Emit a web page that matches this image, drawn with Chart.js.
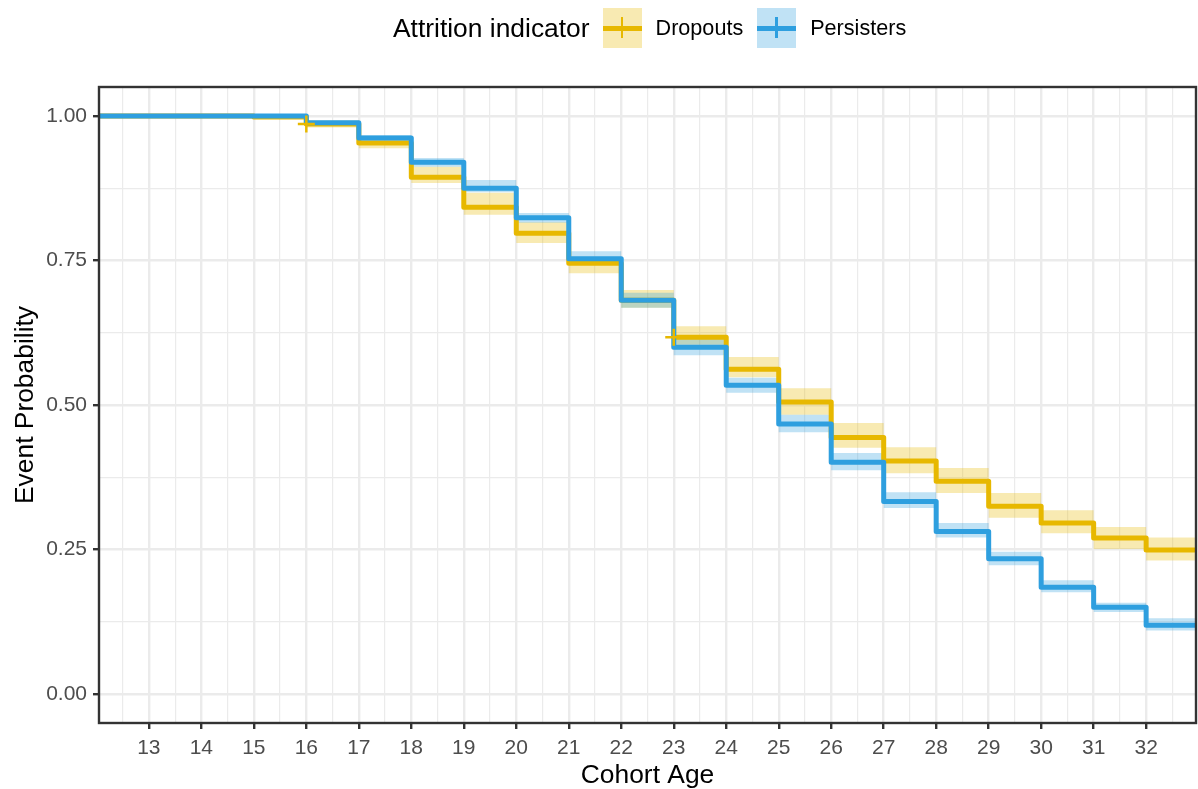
<!DOCTYPE html>
<html>
<head>
<meta charset="utf-8">
<script src="https://cdn.jsdelivr.net/npm/chart.js@4.4.0/dist/chart.umd.min.js"></script>
<style>
html,body{margin:0;padding:0;background:#fff;}
#wrap{position:relative;width:1198px;height:789px;font-family:"Liberation Sans",Arial,sans-serif;overflow:hidden;}
#chart{position:absolute;left:0;top:0;}
#legend{position:absolute;left:393px;top:8px;height:40px;display:flex;align-items:center;white-space:nowrap;}
.ltitle{font-size:26.4px;color:#000;margin-right:13px;}
.key{position:relative;width:39px;height:40px;margin-right:14px;}
.key .h{position:absolute;left:0;right:0;top:18px;height:4.5px;}
.key .v{position:absolute;left:18px;width:2.5px;top:9px;height:21px;}
.lab{font-size:21.6px;color:#000;}
</style>
</head>
<body>
<div id="wrap">
  <canvas id="chart" width="1198" height="789"></canvas>
  <div id="legend"></div>
</div>
<script>
// ---------- data ----------
const ages = [12,13,14,15,16,17,18,19,20,21,22,23,24,25,26,27,28,29,30,31,32];
const endAge = 33;

const dropouts      = [1,1,1,0.998,0.986,0.953,0.894,0.842,0.797,0.745,0.681,0.617,0.562,0.505,0.444,0.403,0.368,0.325,0.296,0.270,0.249];
const dropoutsUpper = [1,1,1,1.000,0.992,0.958,0.912,0.867,0.816,0.756,0.699,0.636,0.583,0.529,0.469,0.427,0.391,0.348,0.318,0.289,0.271];
const dropoutsLower = [1,1,1,0.996,0.980,0.944,0.884,0.829,0.780,0.728,0.668,0.604,0.548,0.483,0.426,0.382,0.348,0.305,0.278,0.251,0.231];

const persisters      = [1,1,1,1,0.988,0.962,0.920,0.875,0.824,0.753,0.681,0.600,0.534,0.467,0.401,0.333,0.281,0.234,0.185,0.150,0.119];
const persistersUpper = [1,1,1,1,0.991,0.967,0.927,0.889,0.832,0.766,0.694,0.616,0.547,0.483,0.417,0.349,0.296,0.246,0.197,0.158,0.131];
const persistersLower = [1,1,1,1,0.985,0.957,0.912,0.868,0.815,0.743,0.668,0.586,0.521,0.453,0.387,0.322,0.271,0.223,0.176,0.142,0.110];

const dropoutCensorAges   = [16, 23];
const dropoutCensorValues = [0.986, 0.617];

const xTicks = [13,14,15,16,17,18,19,20,21,22,23,24,25,26,27,28,29,30,31,32];
const yTicks = [0, 0.25, 0.5, 0.75, 1];
const yTickLabels = ['0.00','0.25','0.50','0.75','1.00'];

const seriesNames = ['Dropouts','Persisters'];
const legendTitle = 'Attrition indicator';
const xTitle = 'Cohort Age';
const yTitle = 'Event Probability';

// ---------- styling ----------
const YEL = '#E7B800', BLU = '#2E9FDF';
const YEL_F = 'rgba(231,184,0,0.3)', BLU_F = 'rgba(46,159,223,0.3)';
const FONT = '"Liberation Sans", Arial, sans-serif';

function steps(vals){
  const pts = ages.map((a,i)=>({x:a, y:vals[i]}));
  pts.push({x:endAge, y:vals[vals.length-1]});
  return pts;
}
function minorsBetween(arr){
  const out=[]; const d = arr[1]-arr[0];
  out.push(arr[0]-d/2);
  for(let i=0;i<arr.length-1;i++) out.push((arr[i]+arr[i+1])/2);
  out.push(arr[arr.length-1]+d/2);
  return out;
}
const xGrid = xTicks.concat(minorsBetween(xTicks)).sort((a,b)=>a-b);
const yGrid = yTicks.concat(minorsBetween(yTicks).slice(1,-1)).sort((a,b)=>a-b);

const isMajorX = v => xTicks.indexOf(v) >= 0;
const isMajorY = v => yTicks.indexOf(v) >= 0;

const bandBase = {pointRadius:0, borderWidth:0, borderColor:'transparent', stepped:'before', clip:0, tension:0};
const lineBase = {pointRadius:0, borderWidth:5, stepped:'before', clip:0, fill:false, borderJoinStyle:'round', borderCapStyle:'butt', tension:0};

const panelBorder = {
  id:'panelBorder',
  afterDatasetsDraw(chart){
    const {ctx, chartArea:a} = chart;
    ctx.save();
    ctx.strokeStyle = '#333333';
    ctx.lineWidth = 2.4;
    ctx.strokeRect(a.left, a.top, a.right-a.left, a.bottom-a.top);
    ctx.restore();
  }
};

new Chart(document.getElementById('chart'), {
  type:'line',
  data:{
    datasets:[
      Object.assign({label:'dU', data:steps(dropoutsUpper), fill:1, backgroundColor:YEL_F, order:4}, bandBase),
      Object.assign({label:'dL', data:steps(dropoutsLower), fill:false, order:6}, bandBase),
      Object.assign({label:'pU', data:steps(persistersUpper), fill:3, backgroundColor:BLU_F, order:3}, bandBase),
      Object.assign({label:'pL', data:steps(persistersLower), fill:false, order:5}, bandBase),
      Object.assign({label:seriesNames[0], data:steps(dropouts), borderColor:YEL, order:2}, lineBase),
      Object.assign({label:seriesNames[1], data:steps(persisters), borderColor:BLU, order:1}, lineBase),
      {label:'censor', data:dropoutCensorAges.map((a,i)=>({x:a,y:dropoutCensorValues[i]})),
       showLine:false, pointStyle:'cross', pointRadius:8.5, pointHoverRadius:8.5, pointBorderWidth:2.5,
       pointBorderColor:YEL, borderColor:YEL, pointBackgroundColor:YEL, order:0, clip:0}
    ]
  },
  options:{
    responsive:false, animation:false, devicePixelRatio:1,
    events:[],
    layout:{autoPadding:false, padding:{top:87, right:2, left:0, bottom:0}},
    plugins:{
      legend:{display:false}, tooltip:{enabled:false},
      filler:{drawTime:'beforeDatasetsDraw', propagate:false}
    },
    scales:{
      x:{
        type:'linear', min:12.05, max:32.95,
        afterBuildTicks: s => { s.ticks = xGrid.map(v=>({value:v})); },
        afterFit: s => { s.height = 66; s.paddingLeft = 0; s.paddingRight = 0; },
        ticks:{autoSkip:false, maxRotation:0, minRotation:0, padding:7, color:'#4D4D4D',
               font:{family:FONT, size:21},
               callback: v => isMajorX(v) ? String(v) : ''},
        grid:{color:'#EBEBEB',
              lineWidth: c => (c.tick && isMajorX(c.tick.value)) ? 2.4 : 1.2,
              tickLength:6,
              tickColor: c => (c.tick && isMajorX(c.tick.value)) ? '#333333' : 'rgba(0,0,0,0)',
              tickWidth:2.4},
        border:{display:false},
        title:{display:true, text:xTitle, color:'#000', font:{family:FONT, size:26.4, lineHeight:1}, padding:{top:0, bottom:0.5}}
      },
      y:{
        type:'linear', min:-0.05, max:1.05,
        afterBuildTicks: s => { s.ticks = yGrid.map(v=>({value:v})); },
        afterFit: s => { s.width = 99; s.paddingTop = 0; s.paddingBottom = 0; },
        ticks:{autoSkip:false, padding:6, color:'#4D4D4D', font:{family:FONT, size:21},
               callback: v => { const i = yTicks.indexOf(v); return i>=0 ? yTickLabels[i] : ''; }},
        grid:{color:'#EBEBEB',
              lineWidth: c => (c.tick && isMajorY(c.tick.value)) ? 2.4 : 1.2,
              tickLength:6,
              tickColor: c => (c.tick && isMajorY(c.tick.value)) ? '#333333' : 'rgba(0,0,0,0)',
              tickWidth:2.4},
        border:{display:false},
        title:{display:true, text:yTitle, color:'#000', font:{family:FONT, size:26.4}, padding:{top:10, bottom:0}}
      }
    }
  },
  plugins:[panelBorder]
});

// ---------- legend (HTML) ----------
(function(){
  const lg = document.getElementById('legend');
  const t = document.createElement('span'); t.className='ltitle'; t.textContent = legendTitle; lg.appendChild(t);
  const cols = [[YEL, YEL_F],[BLU, BLU_F]];
  seriesNames.forEach((name,i)=>{
    const k = document.createElement('div'); k.className='key'; k.style.background = cols[i][1];
    const h = document.createElement('div'); h.className='h'; h.style.background = cols[i][0];
    const v = document.createElement('div'); v.className='v'; v.style.background = cols[i][0];
    k.appendChild(h); k.appendChild(v); lg.appendChild(k);
    const l = document.createElement('span'); l.className='lab'; l.textContent = name;
    if(i===0) l.style.marginRight='14px';
    lg.appendChild(l);
  });
})();
</script>
</body>
</html>
